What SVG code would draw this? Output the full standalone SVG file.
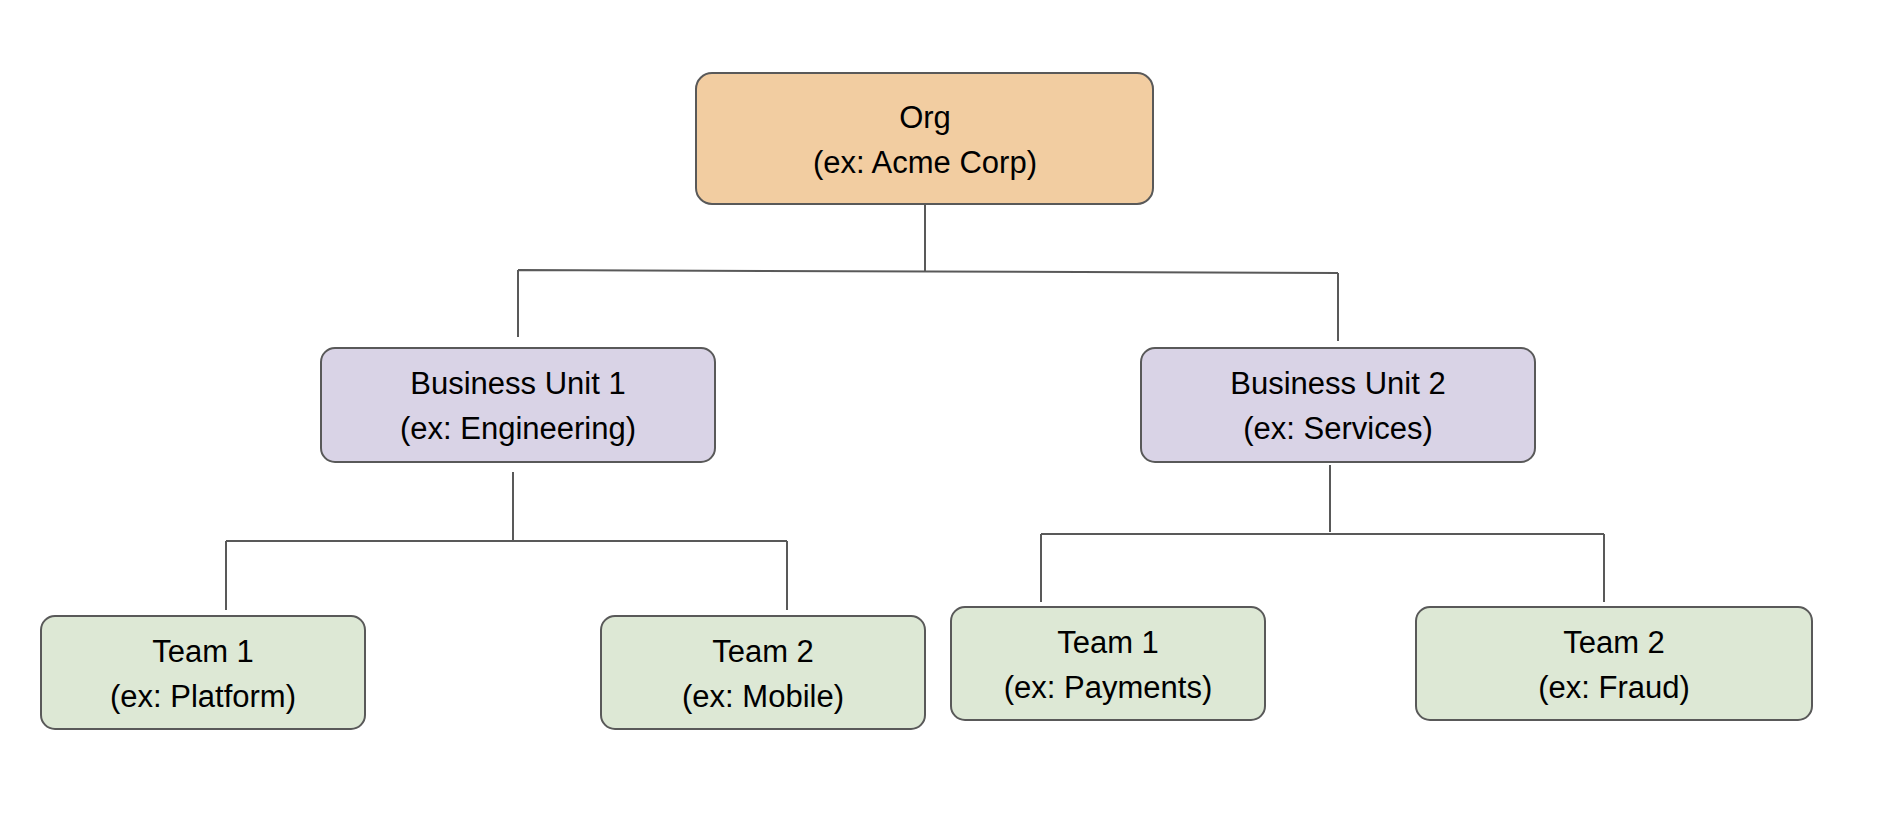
<svg xmlns="http://www.w3.org/2000/svg" width="1898" height="820" viewBox="0 0 1898 820">
<style>
.n{stroke:#595959;stroke-width:2}
.o{fill:#f2cda1}.b{fill:#d9d3e6}.t{fill:#dde8d5}
text{font-family:"Liberation Sans",Arial,sans-serif;font-size:31px;fill:#000;text-anchor:middle}
.c{fill:none;stroke:#595959;stroke-width:2}
</style>
<rect width="1898" height="820" fill="#fff"/>
<g id="connectors">
<path class="c" d="M925 204V271M518 270L1338 273M518 270V337M1338 273V341"/>
<path class="c" d="M513 472V541M226 541H787M226 541V610M787 541V610"/>
<path class="c" d="M1330 465V532M1041 534H1604M1041 534V602M1604 534V602"/>
</g>
<g id="org"><rect class="n o" x="696" y="73" width="457" height="131" rx="16"/><text x="925" y="128">Org</text><text x="925" y="173">(ex: Acme Corp)</text></g>
<g id="bu1"><rect class="n b" x="321" y="348" width="394" height="114" rx="14"/><text x="518" y="394">Business Unit 1</text><text x="518" y="439">(ex: Engineering)</text></g>
<g id="bu2"><rect class="n b" x="1141" y="348" width="394" height="114" rx="14"/><text x="1338" y="394">Business Unit 2</text><text x="1338" y="439">(ex: Services)</text></g>
<g id="team1a"><rect class="n t" x="41" y="616" width="324" height="113" rx="14"/><text x="203" y="662">Team 1</text><text x="203" y="707">(ex: Platform)</text></g>
<g id="team2a"><rect class="n t" x="601" y="616" width="324" height="113" rx="14"/><text x="763" y="662">Team 2</text><text x="763" y="707">(ex: Mobile)</text></g>
<g id="team1b"><rect class="n t" x="951" y="607" width="314" height="113" rx="14"/><text x="1108" y="653">Team 1</text><text x="1108" y="698">(ex: Payments)</text></g>
<g id="team2b"><rect class="n t" x="1416" y="607" width="396" height="113" rx="14"/><text x="1614" y="653">Team 2</text><text x="1614" y="698">(ex: Fraud)</text></g>
</svg>
